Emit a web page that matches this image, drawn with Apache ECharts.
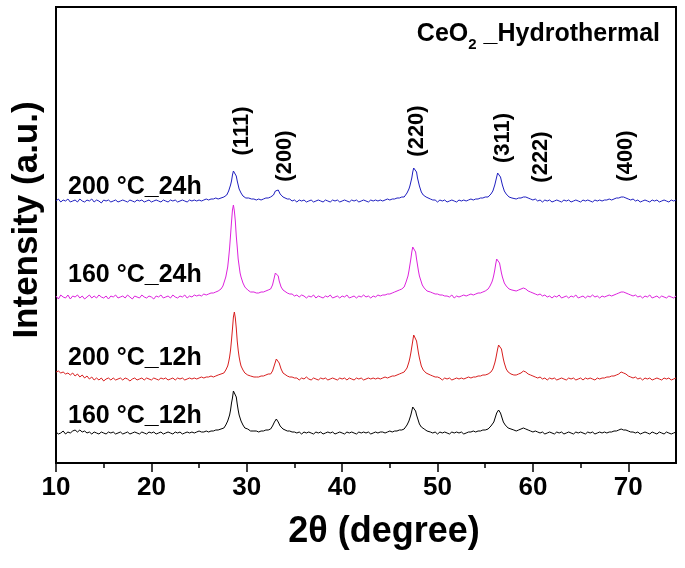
<!DOCTYPE html>
<html><head><meta charset="utf-8">
<script src="https://cdn.jsdelivr.net/npm/echarts@6/dist/echarts.min.js"></script>
<style>html,body{margin:0;padding:0;background:#fff}#c{width:685px;height:568px}</style>
</head><body><div id="c"></div>
<script>
// 2θ sampling positions (degrees)
const twoTheta = [
10,10.25,10.5,10.75,11,11.25,11.5,11.75,12,12.25,12.5,12.75,13,13.25,13.5,13.75,14,14.25,14.5,14.75,15,15.25,15.5,15.75,16,16.25,16.5,16.75,17,17.25,17.5,17.75,18,18.25,18.5,18.75,19,19.25,19.5,19.75,20,20.25,20.5,20.75,21,21.25,21.5,21.75,22,22.25,22.5,22.75,23,23.25,23.5,23.75,24,24.25,24.5,24.75,25,25.25,25.5,25.75,26,26.25,26.5,26.75,27,
27.1,27.2,27.3,27.4,27.5,27.6,27.7,27.8,27.9,28,28.1,28.2,28.3,28.4,28.5,28.6,28.7,28.8,28.9,29,29.1,29.2,29.3,29.4,29.5,29.6,29.7,29.8,29.9,30,30.1,30.2,30.3,30.4,30.5,
30.75,31,31.25,31.5,31.75,32,32.25,32.5,
32.6,32.7,32.8,32.9,33,33.1,33.2,33.3,33.4,33.5,33.6,33.7,33.8,33.9,34,
34.25,34.5,34.75,35,35.25,35.5,35.75,36,36.25,36.5,36.75,37,37.25,37.5,37.75,38,38.25,38.5,38.75,39,39.25,39.5,39.75,40,40.25,40.5,40.75,41,41.25,41.5,41.75,42,42.25,42.5,42.75,43,43.25,43.5,43.75,44,44.25,44.5,44.75,45,45.25,45.5,45.75,46,46.25,46.5,
46.6,46.7,46.8,46.9,47,47.1,47.2,47.3,47.4,47.5,47.6,47.7,47.8,47.9,48,48.1,48.2,48.3,48.4,48.5,48.6,48.7,48.8,48.9,49,
49.25,49.5,49.75,50,50.25,50.5,50.75,51,51.25,51.5,51.75,52,52.25,52.5,52.75,53,53.25,53.5,53.75,54,54.25,54.5,54.75,55,
55.1,55.2,55.3,55.4,55.5,55.6,55.7,55.8,55.9,56,56.1,56.2,56.3,56.4,56.5,56.6,56.7,56.8,56.9,57,57.1,57.2,57.3,57.4,57.5,57.6,57.7,57.8,
58,58.25,58.5,58.75,59,59.25,59.5,59.75,60,60.25,60.5,60.75,61,61.25,61.5,61.75,62,62.25,62.5,62.75,63,63.25,63.5,63.75,64,64.25,64.5,64.75,65,65.25,65.5,65.75,66,66.25,66.5,66.75,67,67.25,67.5,67.75,68,68.25,68.5,68.75,69,69.25,69.5,69.75,70,70.25,70.5,70.75,71,71.25,71.5,71.75,72,72.25,72.5,72.75,73,73.25,73.5,73.75,74,74.25,74.5,74.75,75
];

// intensities (a.u., above each pattern's own baseline)
const int160_12h = [
1,-1,0,2,-1,1,0,2,3,1, 3,1,2,0,1,-1,1,0,-1,1, 0,-1,1,0,1,-1,0,1,-1,0, 1,-1,0,1,0,-1,1,0,-1,1, 0,1,-1,0,1,-1,0,1,0,-1, 1,0,1,-1,0,1,0,1,0,1, 2,1,1,2,1,2,2,3,3,
3,3,4,4,5,5,7,8,10,12, 15,18,23,30,35,42,44,40,36,29, 23,18,15,12,10,8,7,5,5,4, 4,3,3,2,2,
2,2,1,2,2,3,3,4,
6,7,9,11,13,14,13,11,9,7,6,5,4,3,3,
2,2,1,1,0,1,-1,1,0,1, 0,-1,1,0,1,-1,0,1,0,1, -1,0,1,0,-1,1,0,1,0,-1, 1,0,1,0,1,-1,0,1,0,1, 1,0,1,2,1,2,2,3,3,4,
5,6,8,9,12,15,18,22,26,25,26,22,18,15,12,9,8,6,5,4,4,3,3,2,2,
1,0,1,-1,1,0,1,0,-1,1,0,1,0,1,-1,0,1,1,2,1,2,2,3,3,
3,4,4,5,5,7,8,9,11,14,17,20,22,23,22,20,17,14,11,9,8,7,6,5,4,4,4,3,
3,2,3,4,5,4,3,2,1,2, 1,0,1,-1,0,1,0,-1,1,0, 1,-1,0,1,0,-1,1,0,1,0, -1,1,0,1,-1,0,1,0,1,0, 1,1,2,2,3,4,3,3,2,1, 1,0,1,-1,0,1,0,-1,1,0, -1,1,0,-1,1,0,-1,0,1
];
const int200_12h = [
7,8,6,7,5,6,4,6,3,5, 2,4,1,3,0,2,-1,1,-1,1, -2,0,1,-1,1,-1,0,1,-1,1, 0,-2,0,1,-1,0,1,-1,1,0, -1,1,0,-1,1,0,1,-1,0,1, -1,1,0,1,-1,0,1,0,1,0, 1,2,1,2,2,3,2,3,4,
4,4,5,5,6,6,8,9,11,13, 17,22,29,39,50,62,67,61,51,38, 29,22,17,13,11,9,7,6,5,5, 4,4,3,3,3,
2,2,2,3,3,4,5,5,
6,8,11,13,17,20,21,19,16,13,10,8,6,5,4,
3,2,2,1,1,-1,1,0,2,0, -1,1,0,-1,1,0,1,-1,0,1, 0,-1,1,0,1,-1,1,0,-1,1, 0,1,-1,0,1,0,1,0,1,0, 1,2,1,2,3,3,4,5,6,7,
8,9,11,13,17,21,26,32,38,44,46,43,38,32,26,21,17,13,11,9,8,7,6,5,4,
4,3,2,2,1,-1,1,0,1,-1,0,1,0,1,0,1,2,1,2,2,3,3,4,4,
4,4,5,5,6,7,9,10,13,16,20,25,30,34,36,34,30,25,20,16,13,10,9,7,6,5,5,4,
4,4,5,6,8,7,5,4,3,2, 1,2,0,1,-1,1,0,1,-1,0, 1,0,-1,1,0,1,-1,0,1,-1, 1,0,1,0,-1,1,0,1,1,2, 2,3,3,4,5,7,6,5,3,2, 1,2,0,1,-1,1,0,1,-1,0, 1,0,-1,1,0,1,-1,0,1
];
const int160_24h = [
1,-2,2,0,-1,2,-2,1,0,2, -1,1,-2,0,2,-1,1,-1,2,0, -1,1,-2,1,0,2,-1,0,1,-1, 2,0,-2,1,0,-1,2,0,-1,1, 0,-2,1,0,2,-1,0,1,-1,2, 0,-1,1,0,2,-1,1,0,2,1, 2,1,3,2,3,4,4,5,6,
7,8,8,10,11,14,17,20,25,30, 39,49,62,75,87,92,86,76,61,50, 38,31,24,20,17,14,12,10,9,8, 7,6,6,5,5,
5,4,4,5,5,6,7,8,
10,12,16,20,24,26,24,21,16,13,10,8,7,6,5,
4,3,3,1,2,0,2,1,-1,1, 0,2,-1,1,0,-1,1,0,2,-1, 0,1,-1,1,0,2,-1,0,1,-1, 1,0,2,0,1,-1,1,0,2,1, 2,2,3,3,4,5,6,7,8,10,
12,15,18,21,26,32,38,45,50,52,50,45,38,32,26,21,18,15,12,10,9,8,7,6,6,
5,4,3,3,2,2,1,1,0,2,-1,1,0,1,2,1,2,3,2,3,4,4,5,6,
6,7,8,9,11,13,15,18,22,27,33,38,40,38,34,29,24,20,17,14,12,11,10,9,8,8,7,7,
6,6,7,8,9,8,6,5,4,3, 2,3,1,2,0,1,-1,1,0,2, -1,0,1,-1,1,0,2,-1,0,1, -1,1,0,2,0,1,-1,1,0,1, 2,1,2,3,4,5,5,4,3,2, 1,2,0,1,-1,1,0,2,-1,0, 1,-1,1,0,-1,1,0,-1,1
];
const int200_24h = [
0,2,-1,1,0,2,-1,0,1,-1, 2,0,-1,1,0,2,-1,1,0,-2, 1,0,1,-1,0,1,-1,0,1,0, -1,1,0,-1,1,0,1,-1,0,1, -1,0,1,0,-1,1,0,-1,1,0, 1,-1,0,1,0,-1,1,0,1,0, 1,0,1,2,1,2,2,3,2,
3,3,3,4,3,4,5,5,6,8, 10,13,16,20,26,30,32,30,25,20, 16,12,10,8,6,5,5,4,3,3, 2,3,2,1,2,
2,1,2,1,2,3,3,4,
4,5,6,8,10,11,12,11,9,7,6,5,4,3,3,
2,2,0,1,-1,1,0,1,-1,0, 1,-1,0,1,0,-1,1,0,-1,1, 0,1,-1,0,1,0,-1,1,0,1, -1,0,1,0,-1,1,0,1,0,1, 0,1,2,1,2,2,3,3,4,4,
5,6,8,9,12,15,19,23,29,33,35,33,29,23,19,15,12,9,8,6,5,5,4,3,3,
2,1,1,-1,1,0,1,-1,0,1,0,-1,1,0,1,0,1,2,1,2,2,3,3,4,
3,4,4,5,6,7,8,10,13,16,20,24,28,29,27,24,20,16,13,10,8,7,6,5,4,4,3,3,
3,2,3,3,4,4,3,2,1,2, 0,1,-1,1,0,1,-1,0,1,0, -1,1,0,1,-1,0,1,0,-1,1, 0,1,0,-1,1,0,1,0,1,1, 2,1,2,3,3,4,4,3,2,1, 2,0,1,-1,0,1,0,-1,1,0, 1,-1,0,1,0,-1,1,0,1
];

const seriesNames = ['160 °C_12h', '200 °C_12h', '160 °C_24h', '200 °C_24h'];
const seriesValues = [int160_12h, int200_12h, int160_24h, int200_24h];
const stackOffsets = [30, 84, 166, 262];           // vertical offset of each pattern
const seriesColors = ['#000000', '#d81e1e', '#dd22dd', '#1f1fc0'];
const seriesLabelAt = [[11.26, 47], [11.26, 105], [11.26, 188], [11.26, 276]];

const hklLabels = ['(111)', '(200)', '(220)', '(311)', '(222)', '(400)'];
const hklLabelAt = [[29.5, 332], [34.0, 307], [47.8, 332], [56.9, 325], [60.8, 306], [69.7, 307]];

const xMajorTicks = [10, 20, 30, 40, 50, 60, 70];
const xMinorTicks = [15, 25, 35, 45, 55, 65];

seriesValues.forEach((a, i) => {
  if (a.length !== twoTheta.length) throw new Error('length mismatch ' + i + ': ' + a.length + ' vs ' + twoTheta.length);
});

const FONT = "'Liberation Sans', Arial, Helvetica, sans-serif";
const chart = echarts.init(document.getElementById('c'), null, { renderer: 'canvas' });

const lineSeries = seriesValues.map((vals, i) => ({
  type: 'line',
  name: seriesNames[i],
  data: twoTheta.map((x, k) => [x, vals[k] + stackOffsets[i]]),
  showSymbol: false,
  symbol: 'none',
  lineStyle: { color: seriesColors[i], width: 1 },
  itemStyle: { color: seriesColors[i] },
  silent: true,
  z: 3
}));

const option = {
  animation: false,
  backgroundColor: '#fff',
  title: {
    text: '{a|CeO}{b|2}{a| _Hydrothermal}',
    right: 20,
    top: 14,
    textStyle: {
      rich: {
        a: { fontFamily: FONT, fontWeight: 'bold', fontSize: 25, color: '#000', lineHeight: 30 },
        b: { fontFamily: FONT, fontWeight: 'bold', fontSize: 15, color: '#000', lineHeight: 30, padding: [22, 0, 0, 0] }
      }
    }
  },
  grid: { left: 56, right: 9, top: 7, bottom: 105, show: true, borderColor: '#000', borderWidth: 2, backgroundColor: 'transparent' },
  xAxis: [
    {
      type: 'value', min: 10, max: 75, interval: 10,
      axisLine: { show: true, lineStyle: { color: '#000', width: 2 } },
      axisTick: { show: true, customValues: xMajorTicks, length: 9, lineStyle: { color: '#000', width: 1.5 } },
      axisLabel: { customValues: xMajorTicks, fontFamily: FONT, fontWeight: 'bold', fontSize: 26, color: '#000', margin: 12 },
      splitLine: { show: false },
      name: '2θ (degree)', nameLocation: 'middle', nameGap: 51,
      nameTextStyle: { fontFamily: FONT, fontWeight: 'bold', fontSize: 36, color: '#000', padding: [0, 0, 0, 36] }
    },
    {
      type: 'value', min: 10, max: 75, interval: 5, position: 'bottom',
      axisLine: { show: false },
      axisTick: { show: true, customValues: xMinorTicks, length: 5, lineStyle: { color: '#000', width: 1.5 } },
      axisLabel: { show: false },
      splitLine: { show: false }
    }
  ],
  yAxis: {
    type: 'value', min: 0, max: 456,
    axisLine: { show: true, lineStyle: { color: '#000', width: 2 } },
    axisTick: { show: false }, axisLabel: { show: false }, splitLine: { show: false },
    name: 'Intensity (a.u.)', nameLocation: 'middle', nameGap: 11, nameRotate: 90,
    nameTextStyle: { fontFamily: FONT, fontWeight: 'bold', fontSize: 35, color: '#000', padding: [0, 0, 0, 30] }
  },
  series: lineSeries.concat([
    {
      type: 'scatter', symbolSize: 0, silent: true, z: 5,
      itemStyle: { opacity: 1 },
      data: seriesLabelAt.map((p, i) => ({ value: p, name: seriesNames[i] })),
      label: { show: true, position: 'right', distance: 0, formatter: p => p.name,
        fontFamily: FONT, fontWeight: 'bold', fontSize: 25, color: '#000', opacity: 1 }
    },
    {
      type: 'scatter', symbolSize: 0, silent: true, z: 5,
      itemStyle: { opacity: 1 },
      data: hklLabelAt.map((p, i) => ({ value: p, name: hklLabels[i] })),
      label: { show: true, position: 'inside', rotate: 90, formatter: p => p.name,
        fontFamily: FONT, fontWeight: 'bold', fontSize: 22, color: '#000', opacity: 1 }
    }
  ])
};
chart.setOption(option);
</script>
</body></html>
